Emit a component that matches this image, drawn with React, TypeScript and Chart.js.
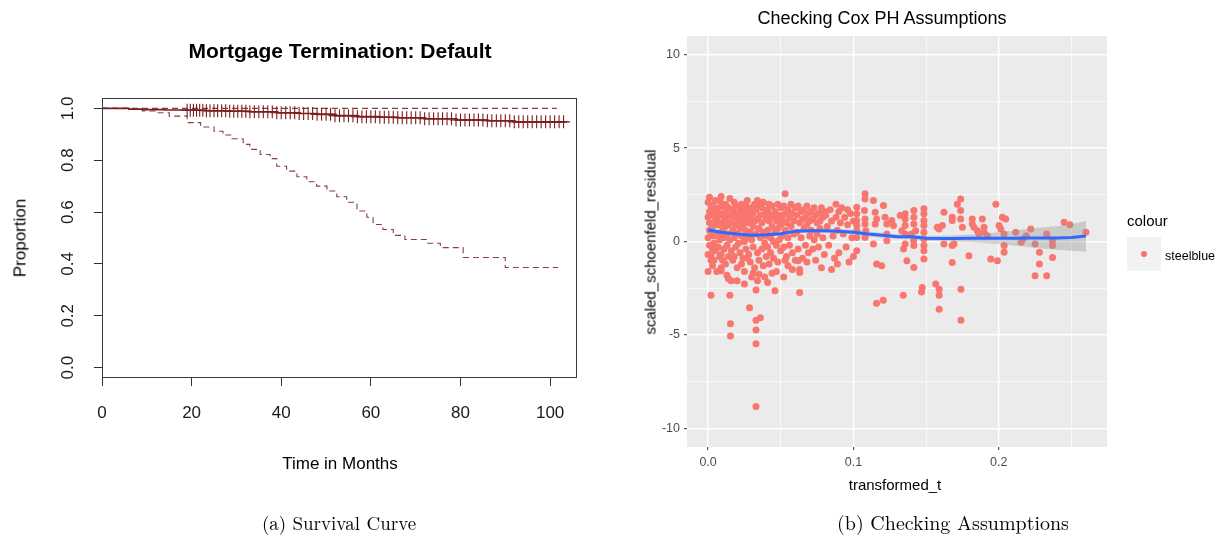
import React, { useEffect, useRef } from 'react';
import { Chart, registerables } from 'chart.js';
Chart.register(...registerables);

// ---------- Panel (a): Kaplan-Meier survival curve ----------
const survivalTimes = [0, 6, 9, 14, 19, 23, 28, 33, 39, 44, 48, 52, 57, 62, 66, 72, 79, 86, 92, 103.7];
const survivalValues = [1.0, 0.997, 0.995, 0.994, 0.993, 0.991, 0.989, 0.987, 0.983, 0.98, 0.977, 0.972, 0.968, 0.966, 0.964, 0.96, 0.955, 0.952, 0.948, 0.947];
const upperTimes = [0, 101.5];
const upperValues = [1.0, 1.0];
const lowerTimes = [0, 6, 9, 12, 15, 19, 22, 25, 27, 29, 31.5, 33, 35.3, 37.5, 39, 41.2, 43.5, 45.7, 47.9, 50.2, 52.4, 54.6, 56.9, 59.1, 60.5, 62.7, 65, 67.6, 72.5, 75.5, 80.6, 90, 101.8];
const lowerValues = [1.0, 0.996, 0.99, 0.983, 0.97, 0.945, 0.928, 0.912, 0.897, 0.883, 0.861, 0.842, 0.822, 0.806, 0.777, 0.758, 0.736, 0.717, 0.7, 0.681, 0.659, 0.638, 0.604, 0.58, 0.552, 0.533, 0.51, 0.494, 0.48, 0.463, 0.425, 0.386, 0.386];
const censorTimes = [19, 19.7, 20.4, 21.1, 21.8, 22.5, 23.3, 24.1, 25, 25.8, 26.7, 27.6, 28.5, 29.4, 30.3, 31.2, 32.1, 33, 34, 35, 36, 37, 38, 39, 40, 41, 42, 43, 44, 45, 46, 47, 48, 49, 50, 51, 52, 53, 54, 55, 56, 57, 58, 59, 60, 61, 62, 63, 64, 65, 66, 67, 68, 69, 70, 71, 72, 73, 74, 75, 76, 77, 78, 79, 80, 81, 82, 83, 84, 85, 86, 87, 88, 89, 90, 91, 92, 93, 94, 95, 96, 97, 98, 99, 100, 101, 102, 103];
const survivalXTicks = [0, 20, 40, 60, 80, 100];
const survivalYTicks = [0, 0.2, 0.4, 0.6, 0.8, 1.0];

// ---------- Panel (b): scaled Schoenfeld residuals ----------
const residualPoints: [number, number][] = [
  [0.000, 2.1], [0.001, 1.6], [0.002, 1.9], [0.000, 1.3], [0.001, 1.0], [0.003, 0.8], [0.002, 0.5], [0.000, 0.2], [0.001, -0.2], [0.003, -0.4],
  [0.000, -0.7], [0.002, -1.0], [0.004, 1.4], [0.004, 0.9], [0.004, 0.3], [0.005, 2.2], [0.005, 1.7], [0.005, -0.5], [0.003, -1.3], [0.002, -2.88],
  [0.004, -1.0], [0.001, 0.6], [0.005, 1.1], [0.003, 1.9], [0.004, -0.1], [0.001, 2.37], [0.002, -0.76], [0.000, -1.6],
  [0.006, 1.2], [0.006, 0.4], [0.007, 1.8], [0.007, 0.9], [0.007, -0.3], [0.008, 2.2], [0.008, 1.5], [0.008, 0.1], [0.009, 1.0], [0.009, -0.7],
  [0.009, -1.4], [0.010, 1.9], [0.010, 0.6], [0.010, -1.0], [0.006, -1.6], [0.008, -0.8], [0.007, 1.4], [0.009, 0.3], [0.009, 2.41], [0.009, -1.57],
  [0.011, 1.3], [0.011, 0.2], [0.011, -0.4], [0.012, 2.0], [0.012, 1.6], [0.012, 0.8], [0.012, -1.2], [0.013, 1.1], [0.013, 0.4], [0.013, -0.2],
  [0.014, 1.8], [0.014, 0.9], [0.014, -0.8], [0.015, 1.4], [0.015, 0.1], [0.015, -2.88], [0.0154, -4.40], [0.0154, -5.06], [0.013, -1.8], [0.014, -2.0],
  [0.011, 1.9], [0.015, 2.3],
  [0.016, 1.0], [0.016, -0.5], [0.017, 1.7], [0.017, 0.6], [0.017, -1.0], [0.018, 2.1], [0.018, 1.3], [0.018, 0.2], [0.019, 0.9], [0.019, -0.3],
  [0.019, 1.9], [0.020, 1.5], [0.020, 0.4], [0.020, -1.4], [0.016, 1.4], [0.018, -0.8], [0.020, -2.1], [0.016, -2.1],
  [0.021, 1.1], [0.021, -0.1], [0.022, 1.8], [0.022, 0.7], [0.022, -0.6], [0.023, 2.0], [0.023, 1.3], [0.023, 0.3], [0.024, 1.6], [0.024, 0.9],
  [0.024, -0.9], [0.025, 1.2], [0.025, 0.0], [0.025, -1.6], [0.021, 1.5], [0.023, -1.2], [0.025, -2.28],
  [0.026, 1.9], [0.026, 0.6], [0.026, -0.4], [0.027, 1.4], [0.027, 0.2], [0.027, 2.2], [0.028, 1.0], [0.028, -0.7], [0.028, 1.7], [0.0285, -3.54],
  [0.029, 0.5], [0.029, 1.3], [0.029, -1.1], [0.030, 1.8], [0.030, 0.1], [0.030, -1.9], [0.027, -0.9],
  [0.031, 1.5], [0.031, 0.8], [0.031, -0.3], [0.032, 2.0], [0.032, 1.1], [0.032, -1.4], [0.033, 1.7], [0.033, 0.4], [0.033, -2.59], [0.033, -4.22],
  [0.033, -4.74], [0.033, -5.47], [0.033, -8.83], [0.034, 1.2], [0.034, -0.6], [0.034, -2.1], [0.035, 1.9], [0.035, 0.7], [0.035, -1.0], [0.036, -4.08],
  [0.034, 2.2], [0.031, -1.7], [0.035, -1.75],
  [0.036, 1.4], [0.036, 0.2], [0.037, 1.8], [0.037, 1.0], [0.037, -0.4], [0.038, 2.1], [0.038, 0.5], [0.038, -1.3], [0.039, 1.5], [0.039, -0.1],
  [0.040, 1.2], [0.040, 0.3], [0.040, -0.8], [0.039, -1.9], [0.036, 1.9],
  [0.041, 1.7], [0.041, 0.6], [0.041, -0.3], [0.042, 2.0], [0.042, 1.1], [0.042, -1.2], [0.043, 1.4], [0.043, 0.2], [0.043, -0.6], [0.044, 1.9],
  [0.044, 0.8], [0.044, -1.7], [0.045, 1.3], [0.045, 0.0], [0.045, -0.9], [0.041, -2.2],
  [0.046, 1.6], [0.046, -2.64], [0.046, 0.5], [0.047, 1.1], [0.047, -0.2], [0.048, 2.0], [0.048, 0.7], [0.048, -1.1], [0.049, 1.4], [0.049, 0.1],
  [0.050, 1.8], [0.050, 0.9], [0.050, -0.5], [0.047, -1.6],
  [0.051, 1.2], [0.051, 0.3], [0.052, 1.9], [0.052, -0.3], [0.053, 2.55], [0.053, 1.5], [0.053, 0.6], [0.054, 1.0], [0.054, -0.8], [0.055, 1.7],
  [0.055, 0.2], [0.055, -1.3], [0.052, -1.9], [0.053, -1.0],
  [0.056, 1.3], [0.056, -0.2], [0.057, 2.0], [0.057, 0.8], [0.058, 1.5], [0.058, -0.6], [0.059, 1.1], [0.059, 0.4], [0.060, 1.8], [0.060, -1.0],
  [0.058, -1.5],
  [0.061, 1.4], [0.061, 0.5], [0.062, 1.9], [0.062, -0.4], [0.063, -2.73], [0.063, 1.0], [0.064, 1.6], [0.064, 0.2], [0.065, 1.2], [0.065, -0.9],
  [0.063, -1.5], [0.062, -1.03], [0.063, -1.66],
  [0.066, 1.7], [0.066, 0.7], [0.067, 1.3], [0.067, -0.2], [0.068, 1.9], [0.068, 0.9], [0.069, 1.5], [0.069, -0.6], [0.070, 1.1], [0.070, 0.3],
  [0.068, -1.1],
  [0.071, 1.6], [0.071, 0.6], [0.072, 1.2], [0.072, -0.4], [0.073, 1.8], [0.073, 0.1], [0.074, 1.4], [0.074, -1.0], [0.075, 1.0], [0.075, 0.4],
  [0.076, 1.5], [0.076, -0.3], [0.077, 1.1], [0.077, 0.7], [0.078, 1.8], [0.078, -1.4], [0.079, 1.3], [0.079, 0.2], [0.080, 1.6], [0.080, -0.7],
  [0.081, 1.4], [0.082, 0.8], [0.083, -0.2], [0.084, 1.7], [0.085, 1.1], [0.086, 0.3], [0.087, -0.9], [0.088, 2.0], [0.088, 1.3], [0.089, 0.6],
  [0.090, -0.6], [0.090, 1.6], [0.085, -1.5], [0.089, -1.2],
  [0.091, 1.0], [0.092, 1.8], [0.093, 0.4], [0.094, 1.3], [0.095, -0.3], [0.096, 1.7], [0.096, 0.9], [0.097, -1.1], [0.098, 1.5], [0.099, 0.2],
  [0.100, 1.1], [0.100, -0.8],
  [0.1023, 1.84], [0.1023, 1.48], [0.1023, 1.12], [0.1023, 0.85], [0.1023, 0.58], [0.1023, 0.22], [0.1023, -0.49], [0.108, 2.55], [0.108, 2.28], [0.1076, 1.66],
  [0.108, 1.21], [0.108, 0.94], [0.1085, 0.58], [0.108, 0.22], [0.1138, 2.2], [0.115, 1.57], [0.116, 1.21], [0.115, 0.94], [0.1138, -0.13], [0.116, -1.21],
  [0.1195, -1.3], [0.1207, 1.93], [0.1218, 1.3], [0.123, 0.94], [0.123, 0.4], [0.123, 0.04], [0.1264, 1.12], [0.1276, 0.85], [0.1322, 1.39], [0.1333, 0.58],
  [0.1356, 1.48], [0.1356, 1.21], [0.1356, 0.85], [0.1356, 0.4], [0.1356, -0.13], [0.1345, -0.4], [0.1368, -1.03], [0.14, 0.4], [0.1414, 0.04],
  [0.1159, -3.31], [0.1205, -3.15], [0.1343, -2.88],
  [0.1416, 1.66], [0.1416, 1.3], [0.1416, 0.94], [0.1428, 0.58], [0.1416, -0.22], [0.1416, -1.39], [0.1485, 1.75], [0.1485, 1.48], [0.1485, 1.12], [0.1485, 0.85],
  [0.1485, 0.49], [0.1485, 0.13], [0.1485, -0.22], [0.1485, -0.49], [0.1485, -0.94], [0.1474, -2.46], [0.1469, -2.70], [0.1566, -2.28], [0.159, -2.55], [0.159, -2.88],
  [0.159, -3.63], [0.1577, 0.76], [0.1589, 0.67], [0.1612, 0.85], [0.1623, 1.57], [0.1623, -0.13], [0.168, 1.3], [0.168, 1.12], [0.168, -0.22], [0.168, -1.12],
  [0.1692, -0.13], [0.1715, 2.0], [0.1738, 2.28], [0.1738, 1.66], [0.1738, 1.21], [0.175, 0.76], [0.174, -2.55], [0.174, -4.22], [0.1795, -0.76], [0.1818, 1.21],
  [0.183, 0.76], [0.1818, 0.94], [0.1853, 0.58], [0.1864, 0.4], [0.1887, 1.21], [0.1899, 0.76], [0.1899, 0.49], [0.1922, 0.31], [0.1945, -0.94], [0.198, 2.0],
  [0.1991, -1.03], [0.2002, 0.85], [0.2014, 0.67], [0.2025, 1.3], [0.2048, 1.21], [0.2037, 0.4], [0.2037, -0.22], [0.2037, -0.58], [0.2117, 0.49],
  [0.2154, -0.04], [0.2166, 0.13], [0.219, 0.31], [0.222, 0.67], [0.225, -0.13], [0.228, -0.58], [0.228, -1.21], [0.225, -1.84], [0.233, 0.40], [0.233, -1.84],
  [0.237, 0.04], [0.237, -0.22], [0.237, -0.85], [0.245, 1.03], [0.249, 0.9], [0.260, 0.49],
];
const smoothT = [0, 0.01, 0.02, 0.03, 0.04, 0.05, 0.06, 0.07, 0.08, 0.09, 0.1, 0.11, 0.12, 0.13, 0.14, 0.15, 0.16, 0.17, 0.18, 0.19, 0.2, 0.21, 0.22, 0.23, 0.24, 0.25, 0.26];
const smoothY = [0.61, 0.48, 0.4, 0.34, 0.36, 0.42, 0.55, 0.57, 0.57, 0.55, 0.5, 0.4, 0.33, 0.26, 0.25, 0.18, 0.16, 0.16, 0.17, 0.17, 0.18, 0.18, 0.19, 0.19, 0.19, 0.22, 0.3];
const smoothLower = [0.42, 0.37, 0.3, 0.25, 0.27, 0.32, 0.45, 0.47, 0.46, 0.43, 0.37, 0.27, 0.2, 0.13, 0.11, 0.04, 0.01, -0.01, -0.03, -0.08, -0.14, -0.22, -0.3, -0.38, -0.44, -0.5, -0.55];
const smoothUpper = [0.8, 0.59, 0.5, 0.43, 0.45, 0.52, 0.65, 0.67, 0.68, 0.67, 0.63, 0.53, 0.46, 0.39, 0.39, 0.32, 0.31, 0.33, 0.37, 0.42, 0.5, 0.58, 0.68, 0.76, 0.82, 0.92, 1.1];
const residualXTicks = [0, 0.05, 0.1, 0.15, 0.2, 0.25];
const residualYTicks = [-10, -7.5, -5, -2.5, 0, 2.5, 5, 7.5, 10];

const SANS = "'Liberation Sans', Arial, sans-serif";
const SERIF = "'Latin Modern Roman', 'DejaVu Serif', 'Liberation Serif', serif";
const KM_RED = '#7d1e1e';
const KM_DASH = '#8a3f3f';

function stepValue(t: number): number {
  let v = survivalValues[0];
  for (let i = 0; i < survivalTimes.length; i++) {
    if (survivalTimes[i] <= t) v = survivalValues[i];
  }
  return v;
}

const isMajor = (v: number, unit: number) => Math.abs(v / unit - Math.round(v / unit)) < 1e-6;

const boxPlugin = {
  id: 'rbox',
  afterDraw(chart: any) {
    const { ctx, chartArea: a } = chart;
    ctx.save();
    ctx.strokeStyle = '#3a3a3a';
    ctx.lineWidth = 1;
    ctx.strokeRect(a.left + 0.5, a.top + 0.5, a.right - a.left - 1, a.bottom - a.top - 1);
    ctx.restore();
  },
};

const panelPlugin = {
  id: 'ggpanel',
  beforeDraw(chart: any) {
    const { ctx, chartArea: a } = chart;
    ctx.save();
    ctx.fillStyle = '#EBEBEB';
    ctx.fillRect(a.left, a.top, a.right - a.left, a.bottom - a.top);
    ctx.restore();
  },
};

function SurvivalChart() {
  const ref = useRef<HTMLCanvasElement>(null);
  useEffect(() => {
    const chart = new Chart(ref.current!, {
      type: 'line',
      data: {
        datasets: [
          {
            data: censorTimes.map((t) => ({ x: t, y: stepValue(t) })),
            showLine: false,
            pointStyle: 'cross',
            pointRadius: 6.5,
            borderColor: KM_RED,
            borderWidth: 1.1,
            backgroundColor: KM_RED,
          } as any,
          {
            data: survivalTimes.map((t, i) => ({ x: t, y: survivalValues[i] })),
            stepped: 'before',
            borderColor: KM_RED,
            borderWidth: 1.6,
            pointRadius: 0,
            fill: false,
          },
          {
            data: upperTimes.map((t, i) => ({ x: t, y: upperValues[i] })),
            stepped: 'before',
            borderColor: KM_DASH,
            borderWidth: 1.1,
            borderDash: [6, 4],
            pointRadius: 0,
            fill: false,
          },
          {
            data: lowerTimes.map((t, i) => ({ x: t, y: lowerValues[i] })),
            stepped: 'before',
            borderColor: KM_DASH,
            borderWidth: 1.1,
            borderDash: [6, 4],
            pointRadius: 0,
            fill: false,
          },
        ],
      },
      options: {
        animation: false,
        responsive: false,
        layout: { padding: { left: 0, right: 23, top: 98, bottom: 82 } },
        plugins: { legend: { display: false }, tooltip: { enabled: false } },
        scales: {
          x: {
            type: 'linear',
            min: 0,
            max: 106,
            afterBuildTicks: (s: any) => { s.ticks = survivalXTicks.map((v) => ({ value: v })); },
            afterFit: (s: any) => { s.height = 40; },
            grid: { drawOnChartArea: false, tickLength: 8, color: '#333', tickColor: '#333' },
            border: { display: false },
            ticks: { font: { family: SANS, size: 17 }, color: '#1a1a1a', padding: 17, maxRotation: 0 },
          },
          y: {
            type: 'linear',
            min: -0.04,
            max: 1.04,
            afterBuildTicks: (s: any) => { s.ticks = survivalYTicks.map((v) => ({ value: v })); },
            afterFit: (s: any) => { s.width = 102; },
            grid: { drawOnChartArea: false, tickLength: 8, color: '#333', tickColor: '#333' },
            border: { display: false },
            ticks: {
              font: { family: SANS, size: 17 },
              color: '#1a1a1a',
              padding: 14,
              minRotation: 90,
              maxRotation: 90,
              crossAlign: 'center',
              callback: (v: any) => Number(v).toFixed(1),
            },
          },
        },
      } as any,
      plugins: [boxPlugin],
    });
    return () => chart.destroy();
  }, []);
  return <canvas ref={ref} width={600} height={500} style={{ position: 'absolute', left: 0, top: 0, width: 600, height: 500 }} />;
}

function ResidualChart() {
  const ref = useRef<HTMLCanvasElement>(null);
  useEffect(() => {
    const chart = new Chart(ref.current!, {
      type: 'line',
      data: {
        datasets: [
          {
            data: residualPoints.map(([t, r]) => ({ x: t, y: r })),
            showLine: false,
            pointRadius: 3.5,
            pointBackgroundColor: '#F8766D',
            pointBorderWidth: 0,
            borderColor: '#F8766D',
            order: 3,
          } as any,
          {
            data: smoothT.map((t, i) => ({ x: t, y: smoothLower[i] })),
            borderWidth: 0,
            pointRadius: 0,
            fill: false,
            order: 2,
          },
          {
            data: smoothT.map((t, i) => ({ x: t, y: smoothUpper[i] })),
            borderWidth: 0,
            pointRadius: 0,
            fill: '-1',
            backgroundColor: 'rgba(153,153,153,0.4)',
            order: 2,
          },
          {
            data: smoothT.map((t, i) => ({ x: t, y: smoothY[i] })),
            borderColor: '#3366FF',
            borderWidth: 3,
            pointRadius: 0,
            fill: false,
            tension: 0,
            order: 1,
          },
        ],
      },
      options: {
        animation: false,
        responsive: false,
        layout: { padding: { left: 0, right: 120, top: 36, bottom: 23 } },
        plugins: { legend: { display: false }, tooltip: { enabled: false } },
        scales: {
          x: {
            type: 'linear',
            min: -0.0145,
            max: 0.2745,
            afterBuildTicks: (s: any) => { s.ticks = residualXTicks.map((v) => ({ value: v })); },
            afterFit: (s: any) => { s.height = 30; },
            grid: {
              color: '#FFFFFF',
              lineWidth: (c: any) => (c.tick && isMajor(c.tick.value, 0.1) ? 1.4 : 0.7),
              tickLength: 3,
              tickColor: (c: any) => (c.tick && isMajor(c.tick.value, 0.1) ? '#333333' : 'rgba(0,0,0,0)'),
              tickWidth: 1,
            },
            border: { display: false },
            ticks: {
              font: { family: SANS, size: 12.5 },
              color: '#4D4D4D',
              padding: 5,
              maxRotation: 0,
              callback: (v: any) => (isMajor(Number(v), 0.1) ? Number(v).toFixed(1) : ''),
            },
          },
          y: {
            type: 'linear',
            min: -11,
            max: 11,
            afterBuildTicks: (s: any) => { s.ticks = residualYTicks.map((v) => ({ value: v })); },
            afterFit: (s: any) => { s.width = 87; },
            grid: {
              color: '#FFFFFF',
              lineWidth: (c: any) => (c.tick && isMajor(c.tick.value, 5) ? 1.4 : 0.7),
              tickLength: 3,
              tickColor: (c: any) => (c.tick && isMajor(c.tick.value, 5) ? '#333333' : 'rgba(0,0,0,0)'),
              tickWidth: 1,
            },
            border: { display: false },
            ticks: {
              font: { family: SANS, size: 12.5 },
              color: '#4D4D4D',
              padding: 4,
              callback: (v: any) => (isMajor(Number(v), 5) ? String(v) : ''),
            },
          },
        },
      } as any,
      plugins: [panelPlugin],
    });
    return () => chart.destroy();
  }, []);
  return <canvas ref={ref} width={627} height={500} style={{ position: 'absolute', left: 600, top: 0, width: 627, height: 500 }} />;
}

type LabelProps = {
  x: number; y: number; text: string; size: number; rotate?: boolean; bold?: boolean;
  family?: string; color?: string; anchor?: 'center' | 'left';
};

function Label({ x, y, text, size, rotate, bold, family, color, anchor = 'center' }: LabelProps) {
  const tx = anchor === 'center' ? '-50%' : '0';
  return (
    <div
      style={{
        position: 'absolute',
        left: x,
        top: y,
        transform: `translate(${tx}, -50%)${rotate ? ' rotate(-90deg)' : ''}`,
        transformOrigin: anchor === 'center' ? 'center center' : 'left center',
        whiteSpace: 'nowrap',
        fontFamily: family || SANS,
        fontSize: size,
        fontWeight: bold ? 'bold' : 'normal',
        color: color || '#000',
        lineHeight: 1,
      }}
    >
      {text}
    </div>
  );
}

export default function App() {
  useEffect(() => {
    document.body.style.margin = '0';
  }, []);
  return (
    <div style={{ position: 'relative', width: 1227, height: 539, background: '#fff', overflow: 'hidden' }}>
      <SurvivalChart />
      <ResidualChart />
      {/* Panel (a) text */}
      <Label x={340} y={50} text="Mortgage Termination: Default" size={21} bold />
      <Label x={20} y={238} text="Proportion" size={17} rotate />
      <Label x={340} y={463} text="Time in Months" size={17} />
      {/* Panel (b) text */}
      <Label x={882} y={18} text="Checking Cox PH Assumptions" size={18} />
      <Label x={650} y={242} text="scaled_schoenfeld_residual" size={15} rotate />
      <Label x={895} y={484} text="transformed_t" size={15} />
      {/* Legend */}
      <Label x={1127} y={220} text="colour" size={15} anchor="left" />
      <div style={{ position: 'absolute', left: 1127, top: 237, width: 34, height: 34, background: '#F2F2F2' }}>
        <div style={{ position: 'absolute', left: 14, top: 14, width: 6, height: 6, borderRadius: 3, background: '#F8766D' }} />
      </div>
      <Label x={1165} y={256} text="steelblue" size={12.5} anchor="left" />
      {/* Captions */}
      <Label x={339} y={522} text="(a) Survival Curve" size={19} family={SERIF} />
      <Label x={953} y={522} text="(b) Checking Assumptions" size={20} family={SERIF} />
    </div>
  );
}
